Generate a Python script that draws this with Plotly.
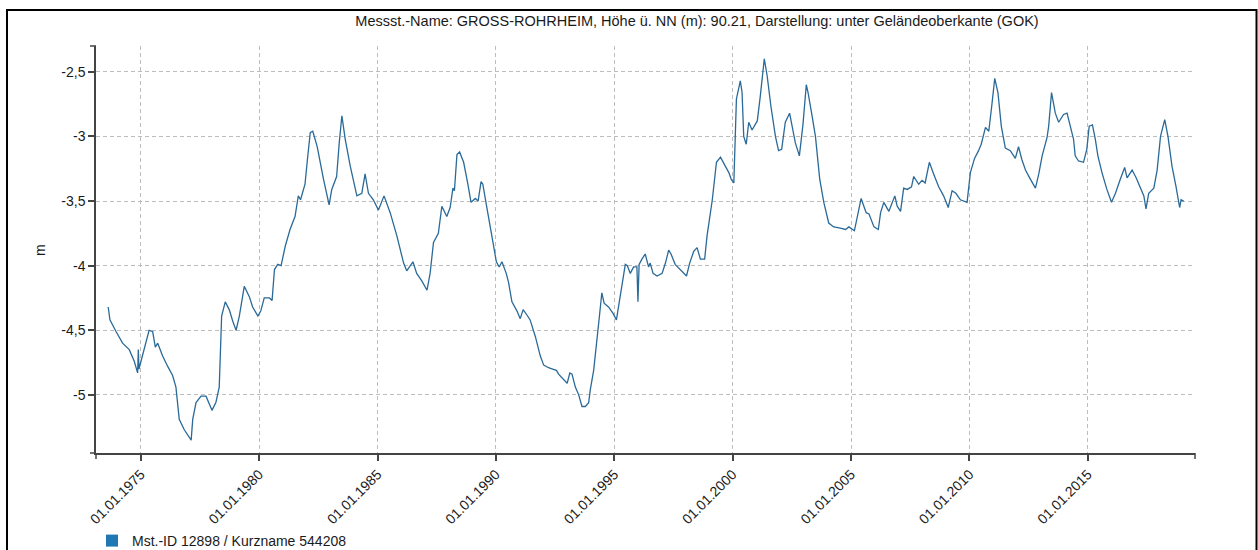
import plotly.graph_objects as go

TITLE = "Messst.-Name: GROSS-ROHRHEIM, Höhe ü. NN (m): 90.21, Darstellung: unter Geländeoberkante (GOK)"
SERIES_NAME = "Mst.-ID 12898 / Kurzname 544208"
Y_TITLE = "m"

dates = [
    "1973-08-17", "1973-09-13", "1973-12-16", "1974-03-27", "1974-07-08", "1974-09-23", "1974-11-14", "1974-11-25",
    "1974-12-05", "1975-02-25", "1975-05-10", "1975-07-04", "1975-08-14", "1975-09-20", "1975-12-05", "1976-02-21",
    "1976-05-07", "1976-06-27", "1976-07-22", "1976-08-17", "1976-11-03", "1977-02-17", "1977-03-13", "1977-05-03",
    "1977-07-19", "1977-10-04", "1978-01-04", "1978-03-05", "1978-04-26", "1978-06-02", "1978-07-28", "1978-09-27",
    "1978-11-21", "1979-01-11", "1979-03-02", "1979-05-17", "1979-08-03", "1979-09-23", "1979-12-13", "1980-01-28",
    "1980-03-20", "1980-06-09", "1980-07-19", "1980-08-25", "1980-10-15", "1980-12-05", "1981-02-07", "1981-04-22",
    "1981-07-08", "1981-08-28", "1981-10-01", "1981-12-09", "1982-01-15", "1982-02-28", "1982-04-08", "1982-06-16",
    "1982-09-20", "1982-12-16", "1983-01-26", "1983-04-11", "1983-05-21", "1983-07-01", "1983-08-21", "1983-11-07",
    "1984-02-17", "1984-05-03", "1984-06-23", "1984-08-14", "1984-10-28", "1985-01-15", "1985-04-11", "1985-07-15",
    "1985-10-26", "1986-02-07", "1986-03-27", "1986-07-01", "1986-08-28", "1986-11-17", "1987-02-03", "1987-03-23",
    "1987-05-14", "1987-07-28", "1987-09-20", "1987-12-05", "1988-01-26", "1988-03-09", "1988-04-01", "1988-05-10",
    "1988-06-20", "1988-08-21", "1988-10-22", "1988-12-13", "1989-02-17", "1989-04-01", "1989-05-17", "1989-06-13",
    "1989-08-07", "1989-09-09", "1989-11-03", "1990-01-08", "1990-02-21", "1990-04-04", "1990-06-09", "1990-07-15",
    "1990-09-05", "1990-11-21", "1991-01-11", "1991-02-25", "1991-04-22", "1991-06-13", "1991-09-02", "1991-11-17",
    "1992-01-08", "1992-03-23", "1992-05-25", "1992-07-22", "1992-08-25", "1992-11-10", "1993-01-04", "1993-02-14",
    "1993-03-20", "1993-05-10", "1993-07-01", "1993-08-21", "1993-10-11", "1993-12-02", "1993-12-27", "1994-02-17",
    "1994-04-08", "1994-05-17", "1994-06-23", "1994-07-28", "1994-10-04", "1994-12-13", "1995-02-03", "1995-03-09",
    "1995-04-28", "1995-06-20", "1995-07-22", "1995-09-05", "1995-10-26", "1995-12-16", "1996-01-01", "1996-01-19",
    "1996-03-02", "1996-04-22", "1996-06-13", "1996-07-08", "1996-08-21", "1996-10-22", "1997-01-08", "1997-02-28",
    "1997-04-19", "1997-05-25", "1997-07-28", "1997-10-15", "1998-01-19", "1998-03-09", "1998-05-10", "1998-07-01",
    "1998-08-21", "1998-10-26", "1998-12-02", "1999-02-21", "1999-04-26", "1999-06-27", "1999-08-28", "1999-11-03",
    "1999-12-09", "2000-01-19", "2000-02-28", "2000-04-28", "2000-05-25", "2000-06-20", "2000-07-28", "2000-09-05",
    "2000-10-26", "2001-01-15", "2001-03-02", "2001-05-03", "2001-06-16", "2001-08-14", "2001-10-22", "2001-12-09",
    "2002-01-26", "2002-03-23", "2002-05-28", "2002-07-01", "2002-08-25", "2002-10-26", "2002-12-20", "2003-02-10",
    "2003-03-09", "2003-05-10", "2003-07-01", "2003-09-05", "2003-11-07", "2004-01-22", "2004-04-08", "2004-07-19",
    "2004-10-08", "2004-11-28", "2005-02-21", "2005-06-05", "2005-08-21", "2005-10-04", "2005-12-20", "2006-02-25",
    "2006-04-01", "2006-05-21", "2006-08-07", "2006-09-13", "2006-11-07", "2006-12-13", "2007-02-03", "2007-03-23",
    "2007-05-17", "2007-07-22", "2007-08-25", "2007-11-10", "2008-01-01", "2008-02-17", "2008-04-22", "2008-06-27",
    "2008-09-13", "2008-11-28", "2009-02-07", "2009-04-08", "2009-06-05", "2009-08-14", "2009-11-25", "2010-01-15",
    "2010-03-20", "2010-05-21", "2010-07-01", "2010-09-05", "2010-10-26", "2010-12-16", "2011-01-26", "2011-03-16",
    "2011-05-07", "2011-07-08", "2011-09-23", "2011-12-09", "2012-01-28", "2012-03-20", "2012-05-14", "2012-07-28",
    "2012-10-15", "2012-12-05", "2013-01-26", "2013-04-11", "2013-05-07", "2013-06-20", "2013-08-17", "2013-10-08",
    "2013-12-23", "2014-02-14", "2014-04-04", "2014-05-25", "2014-06-20", "2014-08-10", "2014-10-26", "2014-12-16",
    "2015-01-22", "2015-03-13", "2015-04-26", "2015-06-05", "2015-08-07", "2015-10-22", "2016-01-01", "2016-03-02",
    "2016-05-17", "2016-07-22", "2016-08-28", "2016-11-14", "2017-01-15", "2017-03-23", "2017-05-14", "2017-06-16",
    "2017-07-28", "2017-10-15", "2017-12-05", "2018-01-26", "2018-04-01", "2018-05-21", "2018-07-22", "2018-09-23",
    "2018-11-17", "2018-12-09", "2019-01-19",
]

values = [
    -4.32, -4.42, -4.51, -4.60, -4.65, -4.74, -4.83, -4.65,
    -4.80, -4.63, -4.50, -4.51, -4.63, -4.60, -4.70, -4.78,
    -4.85, -4.94, -5.08, -5.19, -5.27, -5.35, -5.19, -5.06,
    -5.01, -5.01, -5.12, -5.06, -4.94, -4.39, -4.28, -4.34,
    -4.43, -4.50, -4.39, -4.16, -4.24, -4.32, -4.39, -4.35,
    -4.25, -4.25, -4.27, -4.03, -3.99, -4.00, -3.85, -3.72,
    -3.62, -3.46, -3.49, -3.37, -3.18, -2.97, -2.96, -3.08,
    -3.33, -3.53, -3.41, -3.31, -3.05, -2.84, -3.02, -3.23,
    -3.46, -3.44, -3.29, -3.44, -3.49, -3.57, -3.46, -3.59,
    -3.77, -3.98, -4.04, -3.97, -4.06, -4.12, -4.19, -4.06,
    -3.82, -3.75, -3.54, -3.62, -3.55, -3.40, -3.42, -3.14,
    -3.12, -3.20, -3.36, -3.51, -3.48, -3.50, -3.35, -3.37,
    -3.53, -3.62, -3.80, -3.97, -4.01, -3.97, -4.06, -4.13,
    -4.28, -4.35, -4.41, -4.34, -4.38, -4.42, -4.55, -4.70,
    -4.77, -4.79, -4.80, -4.81, -4.84, -4.88, -4.91, -4.83,
    -4.84, -4.94, -5.00, -5.09, -5.09, -5.06, -4.96, -4.81,
    -4.60, -4.39, -4.21, -4.29, -4.32, -4.37, -4.42, -4.32,
    -4.16, -3.99, -4.00, -4.06, -4.01, -4.01, -4.28, -3.99,
    -3.95, -3.91, -4.01, -3.98, -4.06, -4.08, -4.06, -3.98,
    -3.88, -3.91, -3.99, -4.03, -4.08, -3.98, -3.89, -3.86,
    -3.95, -3.95, -3.77, -3.49, -3.20, -3.16, -3.22, -3.28,
    -3.33, -3.36, -2.71, -2.57, -2.66, -3.00, -3.06, -2.89,
    -2.95, -2.88, -2.69, -2.40, -2.53, -2.77, -3.00, -3.11,
    -3.10, -2.89, -2.82, -2.90, -3.05, -3.15, -2.91, -2.60,
    -2.66, -2.84, -3.00, -3.33, -3.51, -3.67, -3.70, -3.71,
    -3.72, -3.70, -3.73, -3.48, -3.59, -3.60, -3.70, -3.72,
    -3.59, -3.51, -3.58, -3.53, -3.46, -3.54, -3.58, -3.40,
    -3.41, -3.39, -3.31, -3.37, -3.34, -3.36, -3.20, -3.29,
    -3.39, -3.46, -3.55, -3.42, -3.44, -3.49, -3.51, -3.28,
    -3.17, -3.11, -3.06, -2.93, -2.96, -2.74, -2.55, -2.66,
    -2.92, -3.09, -3.11, -3.17, -3.08, -3.18, -3.26, -3.33,
    -3.40, -3.29, -3.15, -3.01, -2.92, -2.66, -2.82, -2.89,
    -2.83, -2.82, -2.92, -3.02, -3.15, -3.19, -3.20, -3.10,
    -2.92, -2.91, -3.02, -3.15, -3.28, -3.41, -3.51, -3.44,
    -3.33, -3.24, -3.32, -3.26, -3.32, -3.40, -3.46, -3.56,
    -3.44, -3.40, -3.26, -3.00, -2.87, -3.00, -3.23, -3.39,
    -3.55, -3.49, -3.50,
]

x_tick_vals = ["1975-01-01", "1980-01-01", "1985-01-01", "1990-01-01", "1995-01-01",
               "2000-01-01", "2005-01-01", "2010-01-01", "2015-01-01"]
x_tick_text = ["01.01.1975", "01.01.1980", "01.01.1985", "01.01.1990", "01.01.1995",
               "01.01.2000", "01.01.2005", "01.01.2010", "01.01.2015"]
y_tick_vals = [-2.5, -3.0, -3.5, -4.0, -4.5, -5.0]
y_tick_text = ["-2,5", "-3", "-3,5", "-4", "-4,5", "-5"]
x_range = ["1973-02-10", "2019-07-12"]
y_range = [-5.45, -2.3]

FONT = "Arial, 'Liberation Sans', sans-serif"
TEXT_COLOR = "#1a1a1a"
AXIS_COLOR = "#444444"
GRID_COLOR = "#bdbdbd"

fig = go.Figure()
fig.add_trace(go.Scatter(
    x=dates, y=values, mode="lines", name=SERIES_NAME,
    line=dict(color="#2a6a98", width=1.3), showlegend=False,
))
fig.add_trace(go.Scatter(
    x=[None], y=[None], mode="markers", name=SERIES_NAME,
    marker=dict(symbol="square", size=12, color="#1f77b4"), showlegend=True,
))

W, H = 1258, 550
ml, mr, mt, mb = 96, 63, 46, 97
pw, ph = W - ml - mr, H - mt - mb

def px_x(p):
    return (p - ml) / pw

def px_y(p):
    return (H - mb - p) / ph

tick = 6
shapes = [
    dict(type="rect", xref="paper", yref="paper", x0=px_x(7), x1=px_x(1256.5), y0=px_y(560), y1=px_y(10),
         line=dict(color="#000000", width=2), fillcolor="rgba(0,0,0,0)", layer="below"),
    dict(type="line", xref="paper", yref="paper", x0=-tick / pw, x1=0, y0=1, y1=1,
         line=dict(color=AXIS_COLOR, width=1.5)),
    dict(type="line", xref="paper", yref="paper", x0=-tick / pw, x1=0, y0=0, y1=0,
         line=dict(color=AXIS_COLOR, width=1.5)),
    dict(type="line", xref="paper", yref="paper", x0=0, x1=0, y0=0, y1=-tick / ph,
         line=dict(color=AXIS_COLOR, width=1.5)),
    dict(type="line", xref="paper", yref="paper", x0=1, x1=1, y0=0, y1=-tick / ph,
         line=dict(color=AXIS_COLOR, width=1.5)),
]

fig.update_layout(
    width=W, height=H,
    margin=dict(l=ml, r=mr, t=mt, b=mb, autoexpand=False),
    paper_bgcolor="white", plot_bgcolor="white",
    font=dict(family=FONT, size=14, color=TEXT_COLOR),
    title=dict(text=TITLE, x=697 / W, xanchor="center", y=1 - 21 / H, yanchor="middle",
               font=dict(family=FONT, size=14.5, color=TEXT_COLOR)),
    showlegend=True,
    legend=dict(orientation="h", x=px_x(92), xanchor="left", y=px_y(541), yanchor="middle",
                font=dict(family=FONT, size=14, color=TEXT_COLOR), bgcolor="rgba(0,0,0,0)",
                itemwidth=30),
    shapes=shapes,
    annotations=[dict(text=Y_TITLE, xref="paper", yref="paper", x=px_x(40), y=px_y(250),
                      textangle=-90, showarrow=False, font=dict(family=FONT, size=14, color=TEXT_COLOR),
                      xanchor="center", yanchor="middle")],
    hovermode=False,
)

fig.update_xaxes(
    type="date", range=x_range, tickvals=x_tick_vals, ticktext=x_tick_text,
    tickangle=-45, tickfont=dict(family=FONT, size=14, color=TEXT_COLOR),
    showline=True, linecolor=AXIS_COLOR, linewidth=1.5,
    ticks="outside", ticklen=tick, tickwidth=1.5, tickcolor=AXIS_COLOR,
    showgrid=True, gridcolor=GRID_COLOR, gridwidth=1, griddash="4px,3px",
    zeroline=False, automargin=False,
)
fig.update_yaxes(
    range=y_range, tickvals=y_tick_vals, ticktext=y_tick_text,
    tickfont=dict(family=FONT, size=14, color=TEXT_COLOR),
    showline=True, linecolor=AXIS_COLOR, linewidth=1.5,
    ticks="outside", ticklen=tick, tickwidth=1.5, tickcolor=AXIS_COLOR,
    showgrid=True, gridcolor=GRID_COLOR, gridwidth=1, griddash="4px,3px",
    zeroline=False, automargin=False,
)

fig.write_html("out.html")
